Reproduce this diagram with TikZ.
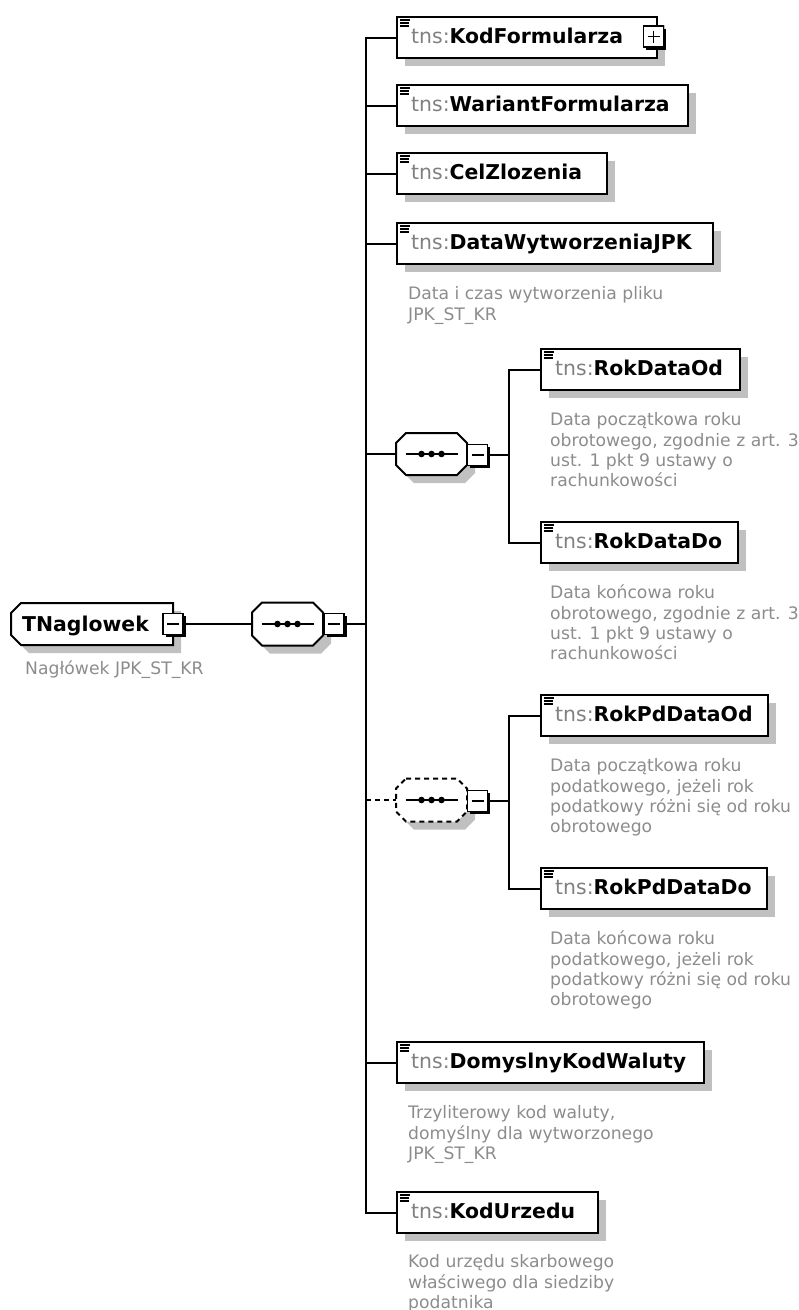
\documentclass[tikz,border=0pt]{standalone}
\usepackage{fontspec}
\usetikzlibrary{calc,shadows}
\newfontfamily\dvsans{DejaVu Sans}
\newcommand\elfont{\dvsans\fontsize{20.4}{24}\selectfont}
\newcommand\anfont{\dvsans\fontsize{17.2}{20.2}\selectfont}
\definecolor{shgray}{HTML}{C0C0C0}
\definecolor{tnsgray}{HTML}{808080}
\definecolor{antgray}{HTML}{8C8C8C}
\newcommand\tnsname[1]{{\color{tnsgray}tns:}\textbf{#1}}

% small "element" glyph in the top left corner of a box
\newcommand\elicon[1]{%
  \draw[iconline] ($(#1.north west)+(4,4)$) -- +(10,0)
                  ($(#1.north west)+(4,7)$) -- +(9,0)
                  ($(#1.north west)+(4,10)$) -- +(9,0);}
% element box with its name
\newcommand\element[5]{%
  \node[elem, minimum width=#4] (#1) at (#2,#3) {};
  \node[eltext] (#1-t) at ($(#1.north west)+(15,27)$) {\tnsname{#5}};
  \elicon{#1}}
% octagonal compositor outline (with its shadow) around a named frame node
\newcommand\octoutline[2]{%
  \fill[shgray, transform canvas={xshift=8pt,yshift=-8pt}]
    ($(#1.north west)+(10,0)$) -- ($(#1.north east)+(-10,0)$) -- ($(#1.north east)+(0,10)$)
    -- ($(#1.south east)+(0,-10)$) -- ($(#1.south east)+(-10,0)$) -- ($(#1.south west)+(10,0)$)
    -- ($(#1.south west)+(0,-10)$) -- ($(#1.north west)+(0,10)$) -- cycle;
  \draw[outline, #2]
    ($(#1.north west)+(10,0)$) -- ($(#1.north east)+(-10,0)$) -- ($(#1.north east)+(0,10)$)
    -- ($(#1.south east)+(0,-10)$) -- ($(#1.south east)+(-10,0)$) -- ($(#1.south west)+(10,0)$)
    -- ($(#1.south west)+(0,-10)$) -- ($(#1.north west)+(0,10)$) -- cycle;}
% sequence compositor mark: a line with three dots
\newcommand\seqmark[1]{%
  \draw[line width=1.8pt] ($(#1.center)+(-26,0)$) -- ($(#1.center)+(26,0)$);
  \foreach \dx in {-10,0,10}
    \fill ($(#1.center)+(\dx,0)$) circle[radius=3.3pt];}
\newcommand\minusmark[1]{%
  \draw[line width=1.4pt] ($(#1.center)+(-6,0)$) -- ($(#1.center)+(6,0)$);}
\newcommand\plusmark[1]{%
  \draw[line width=1.4pt] ($(#1.center)+(-6,0)$) -- ($(#1.center)+(6,0)$)
                          ($(#1.center)+(0,-6)$) -- ($(#1.center)+(0,6)$);}

\begin{document}
\begin{tikzpicture}[x=1pt,y=-1pt,
  elem/.style={rectangle, draw, fill=white, line width=2pt, anchor=north west,
    inner sep=0, minimum height=41pt,
    drop shadow={shadow xshift=8pt, shadow yshift=-8pt, fill=shgray, opacity=1}},
  eltext/.style={anchor=base west, inner sep=0, font=\elfont},
  iconline/.style={line width=1.1pt},
  annot/.style={anchor=north west, inner sep=0, align=left, font=\anfont, text=antgray},
  frame/.style={rectangle, inner sep=0, outer sep=0, minimum width=71pt, minimum height=42pt},
  outline/.style={draw, fill=white, line width=2pt, line join=miter},
  minusbox/.style={rectangle, draw, fill=white, line width=1.3pt, inner sep=0,
    minimum width=20pt, minimum height=21pt,
    drop shadow={shadow xshift=2.5pt, shadow yshift=-2.5pt, fill=black, opacity=1}},
  conn/.style={line width=2pt, line cap=rect},
  optconn/.style={line width=2pt, dash pattern=on 5pt off 4pt}]

\useasboundingbox (0,0) rectangle (799,1310);

% branch lines
\coordinate (tr) at (366,0);
\coordinate (st) at (509,0);

% complex type, chamfered on its left side
\node[rectangle, inner sep=0, outer sep=0, minimum width=162pt, minimum height=42pt] (tnag) at (92,624) {};
\fill[shgray, transform canvas={xshift=8pt,yshift=-8pt}]
  ($(tnag.north west)+(10,0)$) -- (tnag.north east) -- (tnag.south east)
  -- ($(tnag.south west)+(10,0)$) -- ($(tnag.south west)+(0,-10)$) -- ($(tnag.north west)+(0,10)$) -- cycle;
\draw[outline]
  ($(tnag.north west)+(10,0)$) -- (tnag.north east) -- (tnag.south east)
  -- ($(tnag.south west)+(10,0)$) -- ($(tnag.south west)+(0,-10)$) -- ($(tnag.north west)+(0,10)$) -- cycle;
\node[anchor=base west, inner sep=0, font=\elfont\bfseries] (tnag-t) at (22,631) {TNaglowek};
\node[minusbox] (tnm) at (173,624) {};
\minusmark{tnm}
\node[annot] (tnag-a) at ($(tnag.south west)+(14,15.6)$) {\strut Nagłówek JPK\_ST\_KR};

% main sequence
\node[frame, minimum height=43pt] (seq0) at (287.5,624) {};
\octoutline{seq0}{}
\seqmark{seq0}
\node[minusbox] (seq0m) at (334,624) {};
\minusmark{seq0m}

% child elements
\element{kodf}{396}{16}{260pt}{KodFormularza}
\node[minusbox] (kodfp) at (653.5,36.5) {};
\plusmark{kodfp}
\element{wari}{396}{84}{291pt}{WariantFormularza}
\element{celz}{396}{152}{210pt}{CelZlozenia}
\element{dataw}{396}{222}{316pt}{DataWytworzeniaJPK}
\node[annot] (dataw-a) at ($(dataw.south west)+(12,20.6)$)
  {\strut Data i czas wytworzenia pliku\\JPK\_ST\_KR};

% sequence of accounting-year dates
\node[frame] (seq1) at (431.5,454) {};
\octoutline{seq1}{}
\seqmark{seq1}
\node[minusbox] (seq1m) at (477.5,455) {};
\minusmark{seq1m}
\element{rdod}{540}{348}{199pt}{RokDataOd}
\node[annot] (rdod-a) at ($(rdod.south west)+(10,20.6)$)
  {\strut Data początkowa roku\\obrotowego, zgodnie z art. 3\\ust. 1 pkt 9 ustawy o\\rachunkowości};
\element{rddo}{540}{521}{197pt}{RokDataDo}
\node[annot] (rddo-a) at ($(rddo.south west)+(10,20.6)$)
  {\strut Data końcowa roku\\obrotowego, zgodnie z art. 3\\ust. 1 pkt 9 ustawy o\\rachunkowości};

% optional sequence of tax-year dates
\node[frame, minimum height=43pt] (seq2) at (431.5,800) {};
\octoutline{seq2}{dash pattern=on 5pt off 4pt}
\seqmark{seq2}
\node[minusbox] (seq2m) at (477.5,801) {};
\minusmark{seq2m}
\element{rpod}{540}{694}{227pt}{RokPdDataOd}
\node[annot] (rpod-a) at ($(rpod.south west)+(10,20.6)$)
  {\strut Data początkowa roku\\podatkowego, jeżeli rok\\podatkowy różni się od roku\\obrotowego};
\element{rpdo}{540}{867}{226pt}{RokPdDataDo}
\node[annot] (rpdo-a) at ($(rpdo.south west)+(10,20.6)$)
  {\strut Data końcowa roku\\podatkowego, jeżeli rok\\podatkowy różni się od roku\\obrotowego};

\element{waluta}{396}{1041}{307pt}{DomyslnyKodWaluty}
\node[annot] (waluta-a) at ($(waluta.south west)+(12,20.6)$)
  {\strut Trzyliterowy kod waluty,\\domyślny dla wytworzonego\\JPK\_ST\_KR};
\element{urzad}{396}{1191}{201pt}{KodUrzedu}
\node[annot] (urzad-a) at ($(urzad.south west)+(12,19.6)$)
  {\strut Kod urzędu skarbowego\\właściwego dla siedziby\\podatnika};

% connectors
\draw[conn] (tnm.east) -- (seq0.west);
\draw[conn] (seq0m.east) -- (seq0m.east -| tr);
\draw[conn] (kodf.west -| tr) -- (urzad.west -| tr);
\foreach \c in {kodf,wari,celz,dataw,waluta,urzad}
  \draw[conn] (\c.west -| tr) -- (\c.west);
\draw[conn] (seq1.west -| tr) -- (seq1.west);
\draw[optconn] (seq2.west -| tr) -- (seq2.west);

\draw[conn] (seq1m.east) -- (seq1m.east -| st);
\draw[conn] (rdod.west -| st) -- (rddo.west -| st);
\draw[conn] (rdod.west -| st) -- (rdod.west);
\draw[conn] (rddo.west -| st) -- (rddo.west);

\draw[conn] (seq2m.east) -- (seq2m.east -| st);
\draw[conn] (rpod.west -| st) -- (rpdo.west -| st);
\draw[conn] (rpod.west -| st) -- (rpod.west);
\draw[conn] (rpdo.west -| st) -- (rpdo.west);
\end{tikzpicture}
\end{document}
